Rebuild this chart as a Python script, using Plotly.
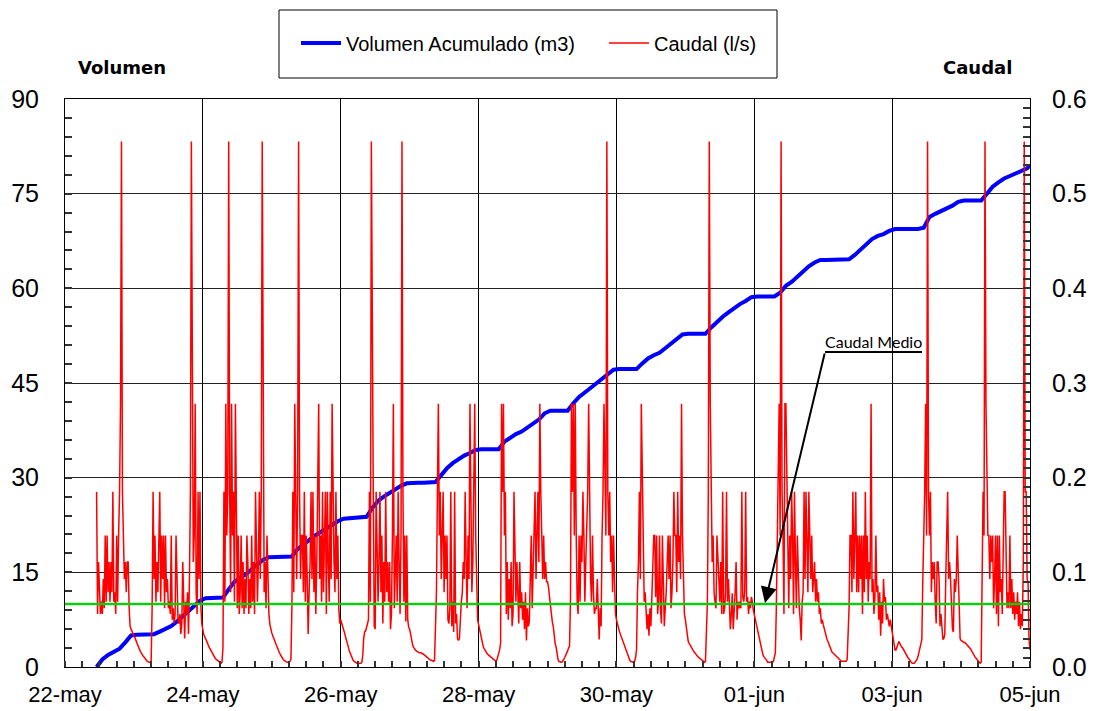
import pandas as pd
import plotly.graph_objects as go

# ---------------------------------------------------------------
# Caudal (l/s): readings every 20 minutes, one list per day
# ---------------------------------------------------------------
caudal_22may = [  # from 11:00
    0.185, 0.056, 0.111, 0.079, 0.056, 0.069, 0.056, 0.093, 0.062, 0.139,
    0.069, 0.139, 0.079, 0.111, 0.069, 0.111, 0.079, 0.185, 0.069, 0.079,
    0.056, 0.139, 0.069, 0.139, 0.185, 0.278, 0.555, 0.185, 0.139, 0.093,
    0.111, 0.079, 0.111, 0.111, 0.062, 0.043, 0.040, 0.037, 0.035]
caudal_23may = [
    0.033, 0.031, 0.028, 0.026, 0.023, 0.021, 0.018, 0.016, 0.014, 0.012,
    0.011, 0.010, 0.008, 0.007, 0.006, 0.005, 0.005, 0.005, 0.006,
    0.062, 0.185, 0.093, 0.139, 0.069, 0.111, 0.079, 0.139, 0.185, 0.069,
    0.139, 0.093, 0.139, 0.062, 0.139, 0.079, 0.093, 0.062, 0.069, 0.056,
    0.139, 0.050, 0.062, 0.046, 0.056, 0.139, 0.079, 0.050, 0.046, 0.056,
    0.035, 0.046, 0.111, 0.062, 0.030, 0.069, 0.056, 0.079, 0.035, 0.093,
    0.185, 0.555, 0.278, 0.111, 0.139, 0.278, 0.079, 0.056, 0.185, 0.093,
    0.185, 0.062, 0.045]
caudal_24may = [
    0.036, 0.034, 0.032, 0.030, 0.028, 0.025, 0.022, 0.020, 0.018, 0.016,
    0.015, 0.013, 0.011, 0.009, 0.008, 0.007, 0.006, 0.005, 0.004, 0.004,
    0.005, 0.020,
    0.185, 0.069, 0.278, 0.139, 0.185, 0.555, 0.185, 0.079, 0.278, 0.139,
    0.185, 0.069, 0.278, 0.185, 0.062, 0.139, 0.056, 0.079, 0.139, 0.062,
    0.111, 0.056, 0.093, 0.062, 0.139, 0.111, 0.056, 0.093, 0.062, 0.139,
    0.069, 0.111, 0.056, 0.185, 0.139, 0.069, 0.111, 0.185, 0.093, 0.185,
    0.555, 0.185, 0.079, 0.111, 0.062, 0.139, 0.093, 0.056, 0.045, 0.038]
caudal_25may = [
    0.036, 0.033, 0.031, 0.028, 0.025, 0.022, 0.019, 0.017, 0.015, 0.013,
    0.011, 0.009, 0.008, 0.007, 0.006, 0.005, 0.005, 0.005, 0.005, 0.006,
    0.008,
    0.062, 0.185, 0.079, 0.278, 0.185, 0.093, 0.185, 0.555, 0.185, 0.093,
    0.139, 0.139, 0.079, 0.185, 0.069, 0.139, 0.093, 0.035, 0.079, 0.111,
    0.185, 0.093, 0.185, 0.079, 0.139, 0.056, 0.111, 0.185, 0.278, 0.093,
    0.139, 0.069, 0.185, 0.079, 0.139, 0.185, 0.056, 0.185, 0.111, 0.069,
    0.185, 0.093, 0.278, 0.185, 0.111, 0.079, 0.185, 0.093, 0.139, 0.062,
    0.046]
caudal_26may = [
    0.050, 0.047, 0.044, 0.040, 0.036, 0.032, 0.029, 0.025, 0.021, 0.017,
    0.014, 0.011, 0.009, 0.007, 0.006, 0.005, 0.005, 0.004, 0.004, 0.004,
    0.004, 0.004, 0.005, 0.012, 0.030, 0.037, 0.038, 0.042, 0.047, 0.050,
    0.185, 0.069, 0.555, 0.278, 0.185, 0.043, 0.040, 0.185, 0.093, 0.069,
    0.111, 0.185, 0.079, 0.139, 0.046, 0.111, 0.069, 0.185, 0.079, 0.111,
    0.069, 0.111, 0.040, 0.056, 0.139, 0.278, 0.062, 0.093, 0.139, 0.069,
    0.185, 0.111, 0.056, 0.139, 0.555, 0.185, 0.069, 0.139, 0.048, 0.139,
    0.050, 0.042]
caudal_27may = [
    0.040, 0.035, 0.028, 0.024, 0.021, 0.019, 0.018, 0.017, 0.016, 0.016,
    0.015, 0.015, 0.015, 0.014, 0.014, 0.013, 0.012, 0.012, 0.011, 0.010,
    0.009, 0.008, 0.007, 0.007, 0.006, 0.006, 0.007, 0.040,
    0.079, 0.185, 0.278, 0.139, 0.185, 0.093, 0.139, 0.185, 0.079, 0.139,
    0.093, 0.139, 0.050, 0.046, 0.062, 0.185, 0.043, 0.069, 0.037, 0.185,
    0.046, 0.056, 0.030, 0.028, 0.030, 0.056, 0.069, 0.079, 0.111, 0.093,
    0.185, 0.111, 0.062, 0.139, 0.093, 0.278, 0.185, 0.079, 0.111, 0.185,
    0.278, 0.139, 0.093, 0.050]
caudal_28may = [
    0.045, 0.040, 0.035, 0.030, 0.025, 0.021, 0.019, 0.017, 0.016, 0.014,
    0.013, 0.012, 0.011, 0.010, 0.009, 0.008, 0.007, 0.007, 0.006, 0.007,
    0.010, 0.014, 0.018, 0.025,
    0.278, 0.185, 0.278, 0.139, 0.185, 0.056, 0.111, 0.050, 0.093, 0.062,
    0.111, 0.043, 0.056, 0.185, 0.139, 0.069, 0.111, 0.079, 0.046, 0.111,
    0.062, 0.079, 0.050, 0.069, 0.040, 0.079, 0.028, 0.062, 0.043, 0.048,
    0.111, 0.139, 0.062, 0.111, 0.139, 0.185, 0.093, 0.139, 0.185, 0.111,
    0.278, 0.185, 0.139, 0.093, 0.139, 0.093, 0.111, 0.090]
caudal_29may = [
    0.090, 0.085, 0.075, 0.065, 0.055, 0.048, 0.043, 0.033, 0.025, 0.021,
    0.014, 0.008, 0.006, 0.005, 0.005, 0.005, 0.006, 0.008, 0.010, 0.012,
    0.014, 0.017, 0.020, 0.022,
    0.070, 0.278, 0.185, 0.278, 0.139, 0.278, 0.139, 0.069, 0.056, 0.139,
    0.069, 0.139, 0.111, 0.185, 0.139, 0.069, 0.111, 0.139, 0.185, 0.278,
    0.139, 0.093, 0.069, 0.139, 0.079, 0.056, 0.062, 0.062, 0.093, 0.056,
    0.029, 0.062, 0.043, 0.139, 0.185, 0.278, 0.185, 0.139, 0.555, 0.185,
    0.139, 0.185, 0.111, 0.139, 0.079, 0.139, 0.093, 0.056]
caudal_30may = [
    0.050, 0.045, 0.042, 0.038, 0.035, 0.032, 0.030, 0.027, 0.024, 0.021,
    0.018, 0.015, 0.012, 0.009, 0.007, 0.006, 0.005, 0.005, 0.005, 0.006,
    0.010, 0.018,
    0.080, 0.111, 0.185, 0.093, 0.278, 0.185, 0.139, 0.069, 0.079, 0.056,
    0.040, 0.056, 0.033, 0.062, 0.043, 0.074, 0.111, 0.139, 0.139, 0.074,
    0.139, 0.056, 0.069, 0.139, 0.062, 0.046, 0.139, 0.069, 0.043, 0.062,
    0.079, 0.111, 0.139, 0.093, 0.139, 0.062, 0.079, 0.111, 0.185, 0.139,
    0.139, 0.079, 0.185, 0.111, 0.139, 0.093, 0.278, 0.139, 0.093, 0.056]
caudal_31may = [
    0.050, 0.040, 0.030, 0.027, 0.025, 0.023, 0.021, 0.019, 0.018, 0.016,
    0.015, 0.013, 0.012, 0.011, 0.010, 0.009, 0.008, 0.007, 0.006, 0.005,
    0.005, 0.006, 0.030,
    0.069, 0.185, 0.555, 0.278, 0.185, 0.111, 0.139, 0.079, 0.069, 0.062,
    0.139, 0.111, 0.079, 0.069, 0.111, 0.056, 0.185, 0.056, 0.062, 0.079,
    0.185, 0.069, 0.093, 0.074, 0.040, 0.056, 0.078, 0.040, 0.056, 0.079,
    0.111, 0.050, 0.069, 0.062, 0.069, 0.062, 0.185, 0.074, 0.069, 0.079,
    0.185, 0.069, 0.074, 0.056, 0.069, 0.062, 0.074, 0.069, 0.060]
caudal_01jun = [
    0.055, 0.050, 0.045, 0.040, 0.036, 0.030, 0.024, 0.019, 0.016, 0.013,
    0.011, 0.010, 0.008, 0.007, 0.005, 0.005, 0.005, 0.005, 0.005, 0.005,
    0.006, 0.012, 0.015,
    0.060, 0.139, 0.185, 0.278, 0.139, 0.555, 0.185, 0.139, 0.056, 0.278,
    0.278, 0.185, 0.139, 0.062, 0.139, 0.093, 0.185, 0.139, 0.056, 0.185,
    0.111, 0.062, 0.139, 0.079, 0.062, 0.050, 0.028, 0.069, 0.079, 0.185,
    0.093, 0.185, 0.139, 0.079, 0.185, 0.111, 0.093, 0.139, 0.079, 0.093,
    0.111, 0.069, 0.093, 0.069, 0.079, 0.056, 0.062, 0.046, 0.050]
caudal_02jun = [
    0.045, 0.040, 0.036, 0.031, 0.029, 0.027, 0.024, 0.021, 0.018, 0.016,
    0.015, 0.014, 0.013, 0.011, 0.010, 0.009, 0.008, 0.007, 0.007, 0.006,
    0.006, 0.006, 0.006, 0.006, 0.006, 0.008, 0.040,
    0.062, 0.139, 0.139, 0.079, 0.185, 0.093, 0.139, 0.185, 0.079, 0.139,
    0.079, 0.139, 0.093, 0.139, 0.056, 0.139, 0.079, 0.185, 0.093, 0.139,
    0.069, 0.111, 0.093, 0.278, 0.079, 0.093, 0.056, 0.074, 0.139, 0.079,
    0.086, 0.050, 0.079, 0.033, 0.069, 0.046, 0.093, 0.069, 0.074, 0.050,
    0.056, 0.046, 0.043, 0.050, 0.043]
caudal_03jun = [
    0.035, 0.029, 0.022, 0.018, 0.018, 0.022, 0.026, 0.027, 0.025, 0.022,
    0.021, 0.020, 0.018, 0.016, 0.014, 0.012, 0.011, 0.009, 0.008, 0.006,
    0.005, 0.004, 0.004, 0.004, 0.005, 0.006, 0.008, 0.011, 0.016, 0.022,
    0.026, 0.029, 0.090,
    0.139, 0.185, 0.278, 0.139, 0.555, 0.185, 0.139, 0.185, 0.079, 0.111,
    0.093, 0.111, 0.069, 0.046, 0.111, 0.111, 0.093, 0.043, 0.056, 0.037,
    0.029, 0.030, 0.035, 0.093, 0.139, 0.185, 0.093, 0.111, 0.093, 0.056,
    0.040, 0.037, 0.093, 0.079, 0.093, 0.139, 0.093, 0.050, 0.030]
caudal_04jun = [
    0.028, 0.027, 0.027, 0.026, 0.026, 0.025, 0.024, 0.023, 0.021, 0.020,
    0.019, 0.017, 0.015, 0.013, 0.011, 0.010, 0.009, 0.007, 0.006, 0.005,
    0.004, 0.005, 0.088,
    0.185, 0.139, 0.555, 0.278, 0.185, 0.139, 0.139, 0.093, 0.139, 0.111,
    0.139, 0.062, 0.093, 0.139, 0.056, 0.139, 0.043, 0.139, 0.079, 0.093,
    0.056, 0.111, 0.185, 0.185, 0.093, 0.062, 0.079, 0.062, 0.139, 0.062,
    0.093, 0.056, 0.079, 0.050, 0.069, 0.056, 0.079, 0.043, 0.069, 0.040,
    0.056, 0.043, 0.111, 0.555, 0.185, 0.185, 0.093, 0.088, 0.029]
caudal_05jun = [0.018]  # 00:00

# ---------------------------------------------------------------
# Volumen acumulado (m3): every 2 hours (odd hours), one list per day
# ---------------------------------------------------------------
volumen_22may = [0.0, 1.2, 1.9, 2.4, 2.9, 3.9, 5.0]  # from 11:00
volumen_23may = [5.1, 5.1, 5.1, 5.2, 5.6, 6.1, 6.5, 7.2, 8.0, 8.8, 9.7, 10.5]
volumen_24may = [10.9, 10.9, 10.9, 11.0, 12.3, 13.5, 14.1, 14.7, 15.5, 16.3, 17.0, 17.4]
volumen_25may = [17.4, 17.4, 17.4, 17.5, 18.7, 19.5, 20.1, 20.8, 21.4, 22.0, 22.6, 23.1]
volumen_26may = [23.5, 23.6, 23.7, 23.7, 23.8, 25.2, 26.3, 27.0, 27.6, 28.2, 28.7, 29.1]
volumen_27may = [29.2, 29.2, 29.2, 29.2, 29.3, 30.4, 31.5, 32.3, 32.9, 33.5, 33.9, 34.4]
volumen_28may = [34.5, 34.5, 34.5, 34.5, 35.7, 36.4, 36.9, 37.3, 37.9, 38.5, 39.2, 40.2]
volumen_29may = [40.6, 40.6, 40.6, 40.6, 41.8, 42.8, 43.5, 44.2, 44.9, 45.6, 46.3, 47.1]
volumen_30may = [47.2, 47.2, 47.2, 47.2, 48.1, 48.9, 49.4, 49.8, 50.5, 51.2, 52.0, 52.7]
volumen_31may = [52.8, 52.8, 52.8, 52.8, 53.8, 54.7, 55.5, 56.2, 56.9, 57.5, 58.0, 58.6]
volumen_01jun = [58.7, 58.7, 58.7, 58.7, 59.3, 60.4, 61.0, 61.9, 62.8, 63.5, 64.1, 64.5]
volumen_02jun = [64.5, 64.5, 64.5, 64.5, 64.6, 65.3, 66.2, 67.1, 67.8, 68.3, 68.6, 69.1]
volumen_03jun = [69.4, 69.4, 69.4, 69.4, 69.4, 69.6, 71.3, 71.8, 72.2, 72.6, 73.1, 73.7]
volumen_04jun = [73.9, 73.9, 73.9, 73.9, 75.0, 76.1, 76.8, 77.4, 77.8, 78.2, 78.5, 79.0]
volumen_05jun = [79.5]  # 00:00

caudal_medio = 0.0665  # l/s

tick_dates = ["2002-05-22", "2002-05-24", "2002-05-26", "2002-05-28",
              "2002-05-30", "2002-06-01", "2002-06-03", "2002-06-05"]
tick_labels = ["22-may", "24-may", "26-may", "28-may",
               "30-may", "01-jun", "03-jun", "05-jun"]

# ---------------------------------------------------------------
caudal_series = [
    ("2002-05-22 11:00", caudal_22may), ("2002-05-23", caudal_23may),
    ("2002-05-24", caudal_24may), ("2002-05-25", caudal_25may),
    ("2002-05-26", caudal_26may), ("2002-05-27", caudal_27may),
    ("2002-05-28", caudal_28may), ("2002-05-29", caudal_29may),
    ("2002-05-30", caudal_30may), ("2002-05-31", caudal_31may),
    ("2002-06-01", caudal_01jun), ("2002-06-02", caudal_02jun),
    ("2002-06-03", caudal_03jun), ("2002-06-04", caudal_04jun),
    ("2002-06-05", caudal_05jun),
]
volumen_series = [
    ("2002-05-22 11:00", volumen_22may), ("2002-05-23 01:00", volumen_23may),
    ("2002-05-24 01:00", volumen_24may), ("2002-05-25 01:00", volumen_25may),
    ("2002-05-26 01:00", volumen_26may), ("2002-05-27 01:00", volumen_27may),
    ("2002-05-28 01:00", volumen_28may), ("2002-05-29 01:00", volumen_29may),
    ("2002-05-30 01:00", volumen_30may), ("2002-05-31 01:00", volumen_31may),
    ("2002-06-01 01:00", volumen_01jun), ("2002-06-02 01:00", volumen_02jun),
    ("2002-06-03 01:00", volumen_03jun), ("2002-06-04 01:00", volumen_04jun),
    ("2002-06-05 00:00", volumen_05jun),
]


def build(series, freq):
    xs, ys = [], []
    for start, vals in series:
        xs.extend(pd.date_range(start, periods=len(vals), freq=freq))
        ys.extend(vals)
    return xs, ys


caudal_x, caudal_y = build(caudal_series, "20min")
vol_x, vol_y = build(volumen_series, "2h")

FONT = "Liberation Sans, Arial, sans-serif"
SIX_HOURS = 6 * 3600 * 1000

fig = go.Figure()
fig.add_trace(go.Scatter(
    x=vol_x, y=vol_y, mode="lines", name="Volumen Acumulado (m3)",
    line=dict(color="#0000FF", width=4), yaxis="y"))
fig.add_trace(go.Scatter(
    x=caudal_x, y=caudal_y, mode="lines", name="Caudal (l/s)",
    line=dict(color="#FF0000", width=1.5), yaxis="y2"))
fig.add_trace(go.Scatter(
    x=[pd.Timestamp(tick_dates[0]), pd.Timestamp(tick_dates[-1])],
    y=[caudal_medio, caudal_medio], mode="lines", showlegend=False,
    line=dict(color="#10CC10", width=2.5), yaxis="y2", hoverinfo="skip"))

W, H = 1093, 711
ML, MR, MT, MB = 65, 63, 99, 44
PW, PH = W - ML - MR, H - MT - MB


def px(x):
    return (x - ML) / PW


def py(y):
    return (H - MB - y) / PH


TICK_COLOR = "#333333"

fig.update_layout(
    width=W, height=H,
    margin=dict(l=ML, r=MR, t=MT, b=MB, autoexpand=False),
    paper_bgcolor="white", plot_bgcolor="white",
    font=dict(family=FONT, color="black"),
    xaxis=dict(
        type="date", range=[tick_dates[0], tick_dates[-1]],
        tickmode="array", tickvals=tick_dates, ticktext=tick_labels,
        showgrid=True, gridcolor="black", gridwidth=1,
        showline=True, linecolor="black", mirror=True,
        ticks="", tickfont=dict(size=22), ticklabelstandoff=8,
        minor=dict(tick0=tick_dates[0], dtick=SIX_HOURS, ticks="inside",
                   ticklen=6, tickcolor=TICK_COLOR, tickwidth=2),
        zeroline=False,
    ),
    yaxis=dict(
        range=[0, 90], dtick=15,
        showgrid=True, gridcolor="#222222",
        showline=True, linecolor="black", mirror=True,
        ticks="inside", ticklen=7, tickcolor=TICK_COLOR, tickwidth=2,
        tickfont=dict(size=25), ticklabelstandoff=20,
        minor=dict(dtick=3, ticks="inside", ticklen=7,
                   tickcolor=TICK_COLOR, tickwidth=2),
        zeroline=False,
    ),
    yaxis2=dict(
        overlaying="y", side="right", range=[0, 0.6],
        dtick=0.1, tickformat=".1f", showgrid=False,
        showline=True, linecolor="black",
        ticks="inside", ticklen=7, tickcolor=TICK_COLOR, tickwidth=2,
        tickfont=dict(size=25), ticklabelstandoff=16,
        minor=dict(dtick=0.01, ticks="inside", ticklen=7,
                   tickcolor=TICK_COLOR, tickwidth=2),
        zeroline=False,
    ),
    legend=dict(
        orientation="h", x=px(296), xanchor="left", y=py(43), yanchor="middle",
        font=dict(size=20, family=FONT), bgcolor="rgba(0,0,0,0)",
        itemwidth=40, entrywidth=253, traceorder="normal",
    ),
    showlegend=True,
)

# legend frame
fig.add_shape(type="rect", xref="paper", yref="paper",
              x0=px(279), x1=px(777), y0=py(78), y1=py(10),
              line=dict(color="black", width=1), fillcolor="rgba(0,0,0,0)")

# axis titles
TITLE_FONT = "DejaVu Sans, Liberation Sans, sans-serif"
fig.add_annotation(text="<b>Volumen</b>", xref="paper", yref="paper",
                   x=px(122), y=py(67), xanchor="center", yanchor="middle",
                   showarrow=False, font=dict(size=18, family=TITLE_FONT))
fig.add_annotation(text="<b>Caudal</b>", xref="paper", yref="paper",
                   x=px(977), y=py(67), xanchor="center", yanchor="middle",
                   showarrow=False, font=dict(size=18, family=TITLE_FONT))

# "Caudal Medio" callout
fig.add_annotation(text="Caudal Medio", xref="paper", yref="paper",
                   x=px(873), y=py(341), xanchor="center", yanchor="middle",
                   showarrow=False,
                   font=dict(size=16, family="Comic Sans MS, Lato, sans-serif"))
fig.add_shape(type="line", xref="paper", yref="paper",
              x0=px(825), x1=px(922), y0=py(352), y1=py(352),
              line=dict(color="black", width=2))
fig.add_annotation(text="", xref="paper", yref="paper",
                   x=px(765), y=py(603), ax=825 - 765, ay=352 - 603,
                   showarrow=True, arrowhead=2, arrowsize=1.6, arrowwidth=2,
                   arrowcolor="black", standoff=0)

fig.write_html("out.html")
